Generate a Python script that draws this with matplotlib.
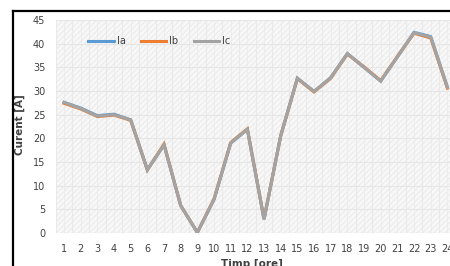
import matplotlib.pyplot as plt
from matplotlib.patches import Rectangle
from matplotlib.lines import Line2D

# date
ore = list(range(1, 25))
ia = [27.6, 26.4, 24.8, 25.1, 23.9, 13.4, 18.6, 5.8, 0.1, 7.1, 19.0, 21.9, 2.9,
      20.6, 32.7, 29.9, 32.8, 37.9, 35.0, 32.1, 37.2, 42.4, 41.5, 30.8]
ib = [27.4, 26.2, 24.6, 24.9, 23.8, 13.3, 18.8, 5.8, 0.1, 7.2, 19.1, 22.0, 3.0,
      20.5, 32.6, 29.8, 32.7, 37.8, 35.1, 32.2, 37.3, 42.2, 41.2, 30.6]
ic = [27.6, 26.3, 24.7, 25.0, 23.9, 13.3, 18.6, 5.8, 0.1, 7.1, 19.0, 21.9, 2.9,
      20.5, 32.7, 29.9, 32.8, 37.9, 35.0, 32.1, 37.2, 42.3, 41.4, 30.8]
yticks = list(range(0, 50, 5))

text_col = '#404040'
plt.rcParams['hatch.color'] = '#e0e0e0'
plt.rcParams['hatch.linewidth'] = 0.4

fig = plt.figure(figsize=(4.5, 2.66), dpi=100)
fig.patch.set_facecolor('white')

ax = fig.add_axes([55.7 / 450, 1 - 233 / 266, 400 / 450, 213 / 266])
ax.set_facecolor('#f7f7f7')

# fundal hasurat ca in Excel
ax.add_patch(Rectangle((0, 0), 1, 1, transform=ax.transAxes, facecolor='none',
                       edgecolor='#e2e2e2', hatch='//////', lw=0, zorder=0))

ax.plot(ore, ia, color='#5b9bd5', lw=2.2, zorder=3, solid_joinstyle='miter')
ax.plot(ore, ib, color='#ed7d31', lw=2.2, zorder=4, solid_joinstyle='miter')
ax.plot(ore, ic, color='#a3a3a3', lw=2.2, zorder=5, solid_joinstyle='miter')

ax.set_xlim(0.5, 24.5)
ax.set_ylim(0, 45)
ax.set_xticks(ore)
ax.set_xticklabels([str(o) for o in ore])
ax.set_yticks(yticks)
ax.set_xticks([o + 0.5 for o in range(0, 25)], minor=True)
ax.grid(which='major', axis='y', color='#e6e6e6', lw=0.8)
ax.grid(which='minor', axis='x', color='#e9e9e9', lw=0.8)
ax.grid(which='major', axis='x', color='#ececec', lw=0.6)
ax.set_axisbelow(True)
for s in ax.spines.values():
    s.set_visible(False)
ax.axhline(0, color='#d9d9d9', lw=0.8, zorder=2)
ax.tick_params(which='both', length=0, labelsize=7, colors=text_col)
ax.tick_params(axis='x', pad=8)
ax.tick_params(axis='y', pad=7.5)

ax.set_ylabel('Curent [A]', fontsize=7.5, fontweight='bold', color=text_col)
ax.yaxis.set_label_coords((25 - 55.7) / 400, 0.5 - (125 - 126.5) / 213)
ax.set_xlabel('Timp [ore]', fontsize=7.5, fontweight='bold', color=text_col)
ax.xaxis.set_label_coords((252 - 55.7) / 400, -0.12)

handles = [Line2D([], [], color=c, lw=2.2) for c in ('#5b9bd5', '#ed7d31', '#a3a3a3')]
leg = ax.legend(handles, ['Ia', 'Ib', 'Ic'], ncol=3, loc='upper left',
                bbox_to_anchor=(0.06, 0.965), frameon=False, fontsize=7,
                handlelength=2.6, handletextpad=0.3, columnspacing=1.6)
for t in leg.get_texts():
    t.set_color(text_col)

# chenarul negru al capturii
fig.add_artist(Line2D([12.7 / 450, 12.7 / 450], [0, 1 - 11 / 266],
                      transform=fig.transFigure, color='black', lw=1.6))
fig.add_artist(Line2D([12.7 / 450, 1], [1 - 11 / 266, 1 - 11 / 266],
                      transform=fig.transFigure, color='black', lw=1.6))

fig.savefig('out.png', dpi=100)
